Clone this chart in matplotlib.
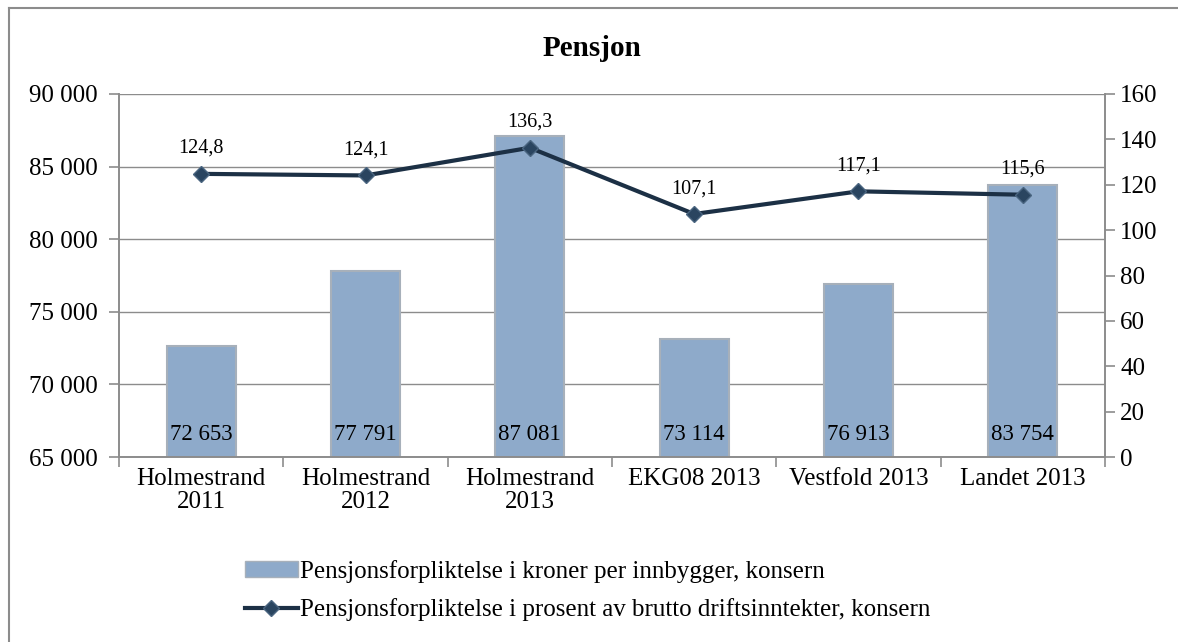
import matplotlib
matplotlib.use("Agg")
import matplotlib.pyplot as plt
from matplotlib.lines import Line2D
from matplotlib.patches import Patch
import numpy as np

categories = ["Holmestrand\n2011", "Holmestrand\n2012", "Holmestrand\n2013",
              "EKG08 2013", "Vestfold 2013", "Landet 2013"]
bar_values = [72653, 77791, 87081, 73114, 76913, 83754]
line_values = [124.8, 124.1, 136.3, 107.1, 117.1, 115.6]
bar_label = "Pensjonsforpliktelse i kroner per innbygger, konsern"
line_label = "Pensjonsforpliktelse i prosent av brutto driftsinntekter, konsern"
title = "Pensjon"

plt.rcParams['font.family'] = ['Liberation Serif', 'DejaVu Serif']

W, H = 1178, 642
fig = plt.figure(figsize=(W / 100, H / 100), dpi=100)
ax = fig.add_axes([119 / W, 1 - 457 / H, (1105 - 119) / W, (457 - 94) / H])
ax2 = ax.twinx()

grey = "#8c8c8c"
bar_color = "#8eaaca"
bar_edge = "#a7b0ba"
line_color = "#1c3045"
tick_fs = 18
data_fs_bar = 16.5
data_fs_line = 14.5

x = np.arange(len(categories))
ax.set_xlim(-0.5, len(categories) - 0.5)
ax.set_ylim(65000, 90000)
ax.set_yticks(np.arange(65000, 90001, 5000))
ax.set_yticklabels([f"{v:,}".replace(",", " ") for v in range(65000, 90001, 5000)])
ax.grid(axis="y", color=grey, linewidth=1.0)
ax.set_axisbelow(True)

ax.bar(x, bar_values, width=0.42, bottom=0, color=bar_color,
       edgecolor=bar_edge, linewidth=1.5, zorder=2)
for xi, v in zip(x, bar_values):
    ax.text(xi, 66550, f"{v:,}".replace(",", " "), ha="center", va="center",
            fontsize=data_fs_bar, color="black", zorder=5)

ax2.set_ylim(0, 160)
ax2.set_yticks(np.arange(0, 161, 20))
ax2.plot(x, line_values, color=line_color, linewidth=3, marker="D",
         markersize=8, markerfacecolor="#2a4560", markeredgecolor="#4a6580",
         zorder=4)
for xi, v in zip(x, line_values):
    ax2.text(xi, v + 7, f"{v:.1f}".replace(".", ","), ha="center", va="bottom",
             fontsize=data_fs_line, color="black")

ax.set_xticks(np.arange(-0.5, len(categories) + 0.5, 1), minor=False)
ax.set_xticklabels([])
ax.set_xticks(x, minor=True)
ax.set_xticklabels(categories, minor=True, fontsize=tick_fs, linespacing=1.05)
ax.tick_params(axis="x", which="major", length=7, color=grey, width=1.2)
ax.tick_params(axis="x", which="minor", length=0, pad=8)
ax.tick_params(axis="y", length=7, color=grey, width=1.2, labelsize=tick_fs, pad=8.5)
ax2.tick_params(axis="y", length=7, color=grey, width=1.2, labelsize=tick_fs, pad=4)

for a in (ax, ax2):
    a.spines["top"].set_visible(False)
    for s in ("left", "right", "bottom"):
        a.spines[s].set_color(grey)
        a.spines[s].set_linewidth(1.2)

fig.text(592 / W, 1 - 48 / H, title, ha="center", va="center",
         fontsize=21, fontweight="bold")

handles = [Patch(facecolor=bar_color, edgecolor=bar_edge, label=bar_label),
           Line2D([0], [0], color=line_color, linewidth=3, marker="D",
                  markersize=8, markerfacecolor="#2a4560",
                  markeredgecolor="#4a6580", label=line_label)]
fig.legend(handles=handles, loc="upper left",
           bbox_to_anchor=(245 / W, 1 - 560 / H),
           frameon=False, fontsize=tick_fs, handlelength=2.1,
           handleheight=0.6, handletextpad=0.12,
           labelspacing=0.62, borderpad=0, borderaxespad=0)

fig.add_artist(Line2D([8.5 / W, 8.5 / W], [0, 1 - 7.5 / H], color=grey,
                      linewidth=1.5, transform=fig.transFigure))
fig.add_artist(Line2D([8.5 / W, 1], [1 - 7.5 / H, 1 - 7.5 / H], color=grey,
                      linewidth=1.5, transform=fig.transFigure))

fig.savefig("out.png", dpi=100)
